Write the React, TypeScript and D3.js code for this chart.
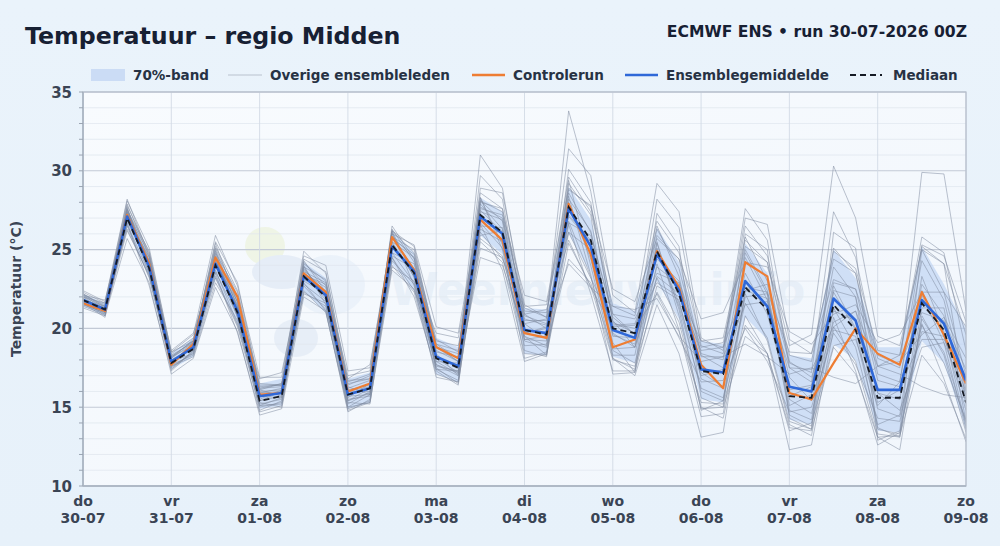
import React from "react";
import * as d3 from "d3";

// 6-hourly steps from 30-07 00Z to 09-08 00Z (41 points)
const stepHours = d3.range(0, 241, 6);

const dayNames = ["do", "vr", "za", "zo", "ma", "di", "wo", "do", "vr", "za", "zo"];
const dayDates = ["30-07", "31-07", "01-08", "02-08", "03-08", "04-08", "05-08", "06-08", "07-08", "08-08", "09-08"];
const yTicks = [10, 15, 20, 25, 30, 35];

const meanSeries = [21.8, 21.2, 27.1, 23.9, 17.9, 18.8, 24.1, 21.1, 15.7, 15.9, 23.3, 22.1, 15.8, 16.2, 25.2, 23.6, 18.2, 17.6, 27.1, 26.0, 19.9, 19.7, 27.6, 25.2, 19.9, 19.4, 24.7, 22.4, 17.4, 17.2, 23.0, 21.4, 16.3, 16.0, 21.9, 20.5, 16.1, 16.1, 21.8, 20.3, 16.7];
const controlSeries = [21.6, 21.1, 27.2, 24.1, 17.7, 19.0, 24.5, 22.0, 15.8, 15.9, 23.5, 22.3, 16.0, 16.5, 25.8, 23.7, 18.8, 18.1, 26.9, 25.6, 19.7, 19.4, 27.9, 24.7, 18.8, 19.3, 24.9, 22.6, 17.7, 16.2, 24.2, 23.3, 15.9, 15.5, 17.8, 20.0, 18.4, 17.7, 22.3, 19.6, 16.5];
const medianSeries = [21.8, 21.2, 27.0, 23.8, 17.8, 18.7, 24.0, 21.0, 15.4, 15.7, 23.3, 22.0, 15.8, 16.2, 25.3, 23.5, 18.1, 17.5, 27.2, 26.1, 19.9, 19.6, 27.7, 25.6, 20.0, 19.7, 24.9, 22.2, 17.3, 17.1, 22.6, 21.2, 15.7, 15.6, 21.5, 19.9, 15.6, 15.6, 21.6, 19.9, 15.3];
const bandLow = [21.4, 20.8, 26.4, 23.2, 17.4, 18.2, 23.2, 20.2, 14.9, 15.1, 22.4, 21.0, 14.9, 15.3, 24.1, 22.4, 17.1, 16.6, 25.9, 24.7, 18.4, 18.3, 26.0, 23.5, 18.2, 17.8, 23.0, 20.6, 15.5, 15.3, 20.7, 19.3, 14.2, 13.9, 19.0, 18.0, 13.5, 13.4, 19.2, 17.8, 13.6];
const bandHigh = [22.2, 21.6, 27.6, 24.6, 18.4, 19.4, 25.0, 22.2, 16.5, 16.8, 24.2, 23.2, 16.8, 17.2, 26.2, 24.8, 19.4, 18.8, 28.3, 27.4, 21.3, 21.2, 29.0, 26.9, 21.6, 21.1, 26.4, 24.2, 19.2, 19.0, 25.4, 23.5, 18.3, 18.1, 25.0, 23.2, 18.8, 18.8, 25.2, 22.8, 20.0];

const members: number[][] = [
  [22.1, 21.5, 27.9, 24.5, 18.2, 19.2, 25.1, 22.0, 16.3, 16.4, 24.1, 23.0, 16.5, 16.8, 26.2, 24.8, 19.3, 18.5, 28.6, 27.6, 21.1, 21.0, 29.6, 27.4, 21.4, 20.8, 26.8, 24.8, 19.2, 18.8, 25.6, 24.2, 18.3, 17.9, 24.9, 23.8, 18.6, 18.3, 25.2, 24.1, 19.6],
  [21.5, 21.0, 26.5, 23.2, 17.6, 18.4, 23.2, 20.1, 15.0, 15.3, 22.4, 21.0, 15.0, 15.3, 24.0, 22.3, 17.1, 16.6, 25.5, 24.2, 18.4, 18.3, 25.4, 22.7, 18.0, 17.6, 22.3, 19.8, 15.3, 15.2, 20.2, 18.4, 13.7, 13.5, 18.8, 17.1, 13.1, 13.2, 18.3, 16.5, 13.0],
  [21.9, 21.2, 27.4, 24.1, 17.8, 19.0, 24.6, 21.4, 15.4, 15.7, 23.7, 22.3, 15.4, 15.9, 25.8, 23.8, 17.7, 17.2, 28.1, 26.8, 19.3, 19.2, 30.1, 28.0, 20.4, 19.7, 28.2, 26.4, 18.9, 18.4, 27.0, 26.6, 19.3, 18.4, 24.4, 23.5, 17.1, 16.6, 25.3, 24.6, 20.4],
  [21.8, 21.3, 27.6, 24.3, 17.9, 18.9, 24.7, 21.7, 15.9, 16.2, 24.2, 22.7, 16.0, 16.3, 26.5, 24.4, 18.8, 17.9, 29.7, 28.2, 20.3, 20.6, 33.8, 28.7, 20.9, 19.6, 26.5, 23.3, 16.8, 16.2, 24.5, 21.8, 14.8, 14.2, 22.7, 20.0, 13.6, 13.3, 22.1, 19.1, 13.6],
  [22.0, 21.4, 27.8, 24.8, 18.3, 19.1, 25.5, 22.9, 16.2, 16.3, 24.4, 23.6, 16.4, 17.0, 26.2, 25.2, 19.0, 18.1, 31.0, 28.9, 20.9, 20.0, 28.8, 27.8, 20.5, 18.8, 25.0, 21.4, 16.2, 15.6, 21.6, 19.4, 14.1, 13.6, 21.3, 18.8, 13.3, 13.1, 20.6, 18.5, 14.0],
  [21.4, 20.9, 26.2, 23.4, 17.6, 18.2, 22.9, 20.5, 15.2, 15.5, 22.2, 21.6, 15.5, 15.7, 24.3, 22.8, 17.7, 17.0, 25.1, 24.5, 19.5, 18.9, 24.4, 22.9, 18.6, 17.8, 23.3, 22.2, 19.2, 19.4, 25.8, 23.0, 17.8, 17.2, 27.4, 24.5, 18.1, 17.5, 29.9, 29.8, 21.1],
  [22.3, 21.6, 28.1, 25.1, 18.5, 19.6, 25.9, 22.7, 16.9, 16.9, 24.6, 24.0, 17.3, 17.5, 26.0, 25.3, 20.1, 19.7, 27.6, 27.2, 22.1, 21.7, 28.9, 27.7, 22.5, 21.7, 25.7, 24.4, 20.6, 21.0, 24.2, 23.9, 19.8, 19.0, 20.9, 21.5, 19.1, 19.6, 22.3, 22.3, 20.1],
  [21.7, 20.8, 26.7, 22.7, 17.3, 18.6, 23.5, 19.7, 14.7, 15.1, 22.9, 21.1, 14.7, 15.5, 24.5, 22.0, 17.3, 16.4, 26.6, 23.7, 17.9, 18.4, 26.6, 22.2, 17.3, 17.3, 24.1, 19.9, 14.4, 14.6, 22.2, 19.2, 13.9, 13.2, 20.7, 17.3, 12.6, 13.4, 20.3, 16.8, 12.8],
  [21.8, 21.1, 27.3, 23.7, 18.0, 18.8, 24.4, 20.7, 15.9, 16.0, 23.1, 22.4, 16.1, 16.4, 24.8, 24.1, 18.6, 17.9, 26.5, 26.4, 20.5, 20.5, 26.7, 25.9, 20.9, 20.6, 23.5, 22.9, 18.2, 18.2, 21.5, 21.7, 17.5, 17.4, 20.1, 21.1, 17.6, 17.9, 19.6, 20.7, 18.1],
  [22.1, 21.8, 27.4, 24.7, 18.1, 19.3, 24.8, 22.3, 16.1, 16.5, 24.9, 23.5, 16.7, 16.8, 26.3, 24.2, 18.5, 18.2, 27.7, 27.0, 21.4, 21.5, 28.0, 24.4, 18.7, 18.8, 23.2, 20.4, 14.9, 15.0, 19.5, 18.4, 13.5, 14.0, 18.9, 19.3, 15.1, 16.6, 24.3, 21.8, 16.1],
  [21.6, 21.2, 26.9, 24.2, 17.5, 18.5, 24.3, 21.5, 15.1, 15.2, 23.5, 22.6, 14.9, 15.4, 25.8, 24.5, 17.4, 16.7, 28.1, 27.4, 18.6, 18.2, 29.2, 27.2, 18.1, 17.4, 27.3, 25.2, 15.6, 15.0, 26.0, 25.0, 14.3, 13.6, 26.1, 25.1, 12.9, 13.5, 25.0, 24.1, 15.4],
  [21.9, 21.0, 26.6, 23.5, 18.2, 19.2, 23.7, 20.3, 16.2, 16.5, 22.7, 21.2, 16.6, 17.1, 24.5, 22.4, 19.2, 18.9, 26.1, 24.4, 21.3, 20.7, 25.6, 22.6, 21.4, 21.2, 21.9, 19.5, 17.9, 18.2, 19.0, 18.2, 17.1, 17.5, 16.9, 16.5, 17.6, 17.1, 16.3, 15.8, 15.6],
  [21.6, 20.7, 27.5, 24.0, 17.7, 18.3, 23.9, 21.4, 15.3, 15.0, 23.0, 22.2, 15.3, 15.2, 24.6, 23.8, 17.5, 16.5, 25.9, 26.2, 19.5, 18.3, 26.1, 25.0, 19.1, 17.2, 22.7, 21.8, 16.0, 15.4, 22.0, 22.2, 14.5, 13.8, 22.4, 22.0, 13.7, 13.1, 21.3, 21.3, 14.1],
  [22.4, 21.7, 28.2, 24.6, 18.1, 19.1, 25.4, 21.6, 15.5, 16.1, 24.3, 22.3, 15.4, 16.2, 26.2, 23.2, 17.4, 17.3, 28.3, 25.3, 18.1, 18.5, 28.4, 23.4, 17.1, 17.2, 25.4, 21.2, 14.8, 15.4, 24.8, 22.2, 15.1, 15.8, 25.1, 23.5, 17.6, 18.3, 25.8, 24.8, 18.6],
  [21.3, 20.8, 25.7, 22.9, 17.1, 18.1, 22.6, 19.8, 14.5, 14.9, 22.0, 21.1, 14.8, 15.3, 23.7, 22.5, 17.6, 17.3, 24.5, 24.0, 19.7, 20.1, 24.1, 22.6, 20.1, 20.2, 22.9, 22.0, 18.6, 18.8, 22.6, 22.3, 18.5, 18.4, 23.1, 22.5, 18.3, 17.7, 21.0, 20.5, 17.4],
  [22.2, 21.4, 27.3, 24.3, 18.4, 19.4, 25.0, 21.3, 16.8, 17.2, 23.8, 22.1, 16.8, 17.7, 25.5, 23.3, 19.7, 19.4, 26.7, 25.1, 20.9, 21.2, 26.1, 23.2, 20.3, 20.0, 22.2, 19.4, 16.6, 16.7, 20.0, 17.9, 14.7, 15.0, 19.7, 17.7, 14.3, 14.1, 20.2, 17.8, 14.2],
  [21.7, 21.3, 27.1, 24.5, 18.2, 18.9, 24.5, 21.9, 16.0, 16.1, 23.6, 22.9, 16.0, 16.0, 25.8, 25.0, 18.9, 17.9, 28.9, 28.6, 21.5, 20.7, 31.4, 29.7, 22.1, 21.0, 29.2, 27.4, 19.4, 18.6, 27.6, 25.6, 17.5, 16.6, 23.9, 22.0, 15.9, 15.5, 22.8, 20.8, 15.2],
  [22.0, 21.1, 26.8, 23.9, 18.0, 18.7, 23.6, 20.8, 15.7, 15.6, 22.8, 21.7, 15.7, 15.8, 24.8, 22.9, 17.9, 17.1, 26.3, 25.5, 19.2, 18.8, 28.2, 26.2, 19.6, 19.0, 25.9, 24.4, 18.4, 18.0, 26.5, 24.6, 18.9, 19.6, 30.3, 27.0, 19.5, 18.9, 25.0, 22.3, 17.0],
  [21.5, 21.0, 27.7, 23.6, 17.4, 18.6, 24.9, 20.7, 14.8, 15.4, 24.0, 21.5, 15.0, 15.8, 26.1, 22.7, 16.9, 16.6, 28.3, 25.0, 18.9, 19.0, 29.4, 24.0, 18.3, 18.3, 25.5, 20.8, 15.0, 14.3, 20.8, 18.4, 12.3, 12.6, 19.9, 19.5, 13.9, 14.5, 23.3, 19.8, 13.8],
  [22.2, 21.3, 27.0, 24.2, 18.6, 19.7, 24.2, 21.7, 16.4, 16.4, 23.4, 22.8, 17.0, 17.3, 25.5, 24.5, 19.0, 18.6, 27.4, 26.9, 20.6, 20.2, 27.2, 25.6, 20.2, 20.3, 24.4, 23.0, 18.8, 19.1, 25.2, 24.2, 17.9, 16.9, 21.1, 20.5, 14.9, 14.4, 19.8, 19.5, 14.8],
  [21.8, 21.4, 26.3, 23.3, 17.7, 19.0, 23.3, 20.2, 15.4, 16.0, 22.3, 21.4, 15.6, 16.5, 23.9, 23.0, 18.1, 17.2, 25.7, 24.6, 19.3, 19.5, 26.8, 23.3, 18.1, 17.0, 21.5, 18.4, 13.1, 13.4, 22.4, 21.9, 16.1, 16.4, 22.9, 22.5, 16.7, 16.3, 19.3, 19.3, 16.8],
  [22.0, 21.6, 27.5, 24.9, 18.5, 19.2, 25.2, 22.4, 16.5, 16.4, 23.9, 23.1, 16.2, 16.7, 25.7, 24.7, 18.8, 18.4, 28.0, 27.6, 20.8, 20.3, 27.1, 25.5, 19.7, 18.8, 23.9, 22.8, 17.2, 16.3, 22.4, 22.8, 16.9, 15.4, 20.4, 21.1, 15.9, 14.8, 18.8, 19.1, 15.8],
  [21.7, 20.9, 27.2, 23.5, 17.9, 18.4, 24.5, 20.9, 16.1, 15.7, 23.9, 21.9, 16.3, 15.8, 26.0, 23.5, 18.4, 17.0, 27.9, 26.3, 20.3, 19.3, 28.6, 26.1, 20.7, 19.6, 26.3, 23.8, 18.3, 17.5, 25.0, 22.4, 15.5, 14.6, 20.1, 17.9, 13.1, 12.3, 20.8, 18.3, 13.4],
  [22.1, 21.2, 27.6, 23.8, 17.8, 19.1, 24.5, 21.1, 15.1, 15.6, 23.5, 21.8, 15.2, 16.0, 25.4, 23.3, 17.9, 17.8, 27.5, 26.1, 19.7, 20.0, 27.8, 24.7, 19.5, 19.4, 25.1, 21.6, 17.0, 17.4, 23.5, 20.9, 15.7, 16.3, 22.3, 19.9, 15.3, 16.1, 22.4, 19.5, 16.0],
];

const W = 1000;
const H = 546;
const M = { left: 83, right: 34, top: 92, bottom: 60 };
const FONT = "'DejaVu Sans', sans-serif";

export default function App() {
  const x = d3.scaleLinear().domain([0, 240]).range([M.left, W - M.right]);
  const y = d3.scaleLinear().domain([10, 35]).range([H - M.bottom, M.top]);

  const line = d3
    .line<number>()
    .x((_, i) => x(stepHours[i]))
    .y((v) => y(v));
  const area = d3
    .area<number>()
    .x((_, i) => x(stepHours[i]))
    .y0((_, i) => y(bandLow[i]))
    .y1((_, i) => y(bandHigh[i]));

  const minorTicks = d3.range(10, 36, 1);
  const dayTicks = dayNames.map((_, i) => i * 24);
  const x0 = M.left;
  const x1 = W - M.right;
  const y0 = H - M.bottom;
  const y1 = M.top;

  return (
    <svg
      width={W}
      height={H}
      viewBox={`0 0 ${W} ${H}`}
      style={{ position: "absolute", left: 0, top: 0, display: "block" }}
      fontFamily={FONT}
    >
      <defs>
        <linearGradient id="pageBg" x1="0" y1="0" x2="0" y2="1">
          <stop offset="0%" stopColor="#eaf3fb" />
          <stop offset="100%" stopColor="#e7f1fa" />
        </linearGradient>
        <linearGradient id="plotBg" x1="0" y1="0" x2="1" y2="1">
          <stop offset="0%" stopColor="#f8fbfe" />
          <stop offset="100%" stopColor="#f1f6fc" />
        </linearGradient>
        <clipPath id="plotClip">
          <rect x={x0} y={y1} width={x1 - x0} height={y0 - y1} />
        </clipPath>
      </defs>
      <rect x={0} y={0} width={W} height={H} fill="url(#pageBg)" />

      {/* title */}
      <text x={25} y={44} fontSize={23.7} fontWeight="bold" fill="#172033">
        Temperatuur – regio Midden
      </text>
      <text x={967} y={37} fontSize={15.6} fontWeight="bold" fill="#172033" textAnchor="end">
        ECMWF ENS • run 30-07-2026 00Z
      </text>

      {/* legend */}
      <g fontSize={13.5} fontWeight="bold" fill="#273244">
        <rect x={91} y={69} width={34} height={12} fill="#cbdcf5" />
        <text x={133} y={80}>70%-band</text>
        <line x1={228} x2={262} y1={75} y2={75} stroke="#b9c2ce" strokeWidth={1} />
        <text x={270} y={80}>Overige ensembleleden</text>
        <line x1={472} x2={505} y1={75} y2={75} stroke="#ee7d33" strokeWidth={2.5} />
        <text x={513} y={80}>Controlerun</text>
        <line x1={625} x2={658} y1={75} y2={75} stroke="#2f68d8" strokeWidth={2.5} />
        <text x={666} y={80}>Ensemblegemiddelde</text>
        <line x1={850} x2={882} y1={75} y2={75} stroke="#151a24" strokeWidth={2} strokeDasharray="6,4" />
        <text x={893} y={80}>Mediaan</text>
      </g>

      {/* plot background */}
      <rect x={x0} y={y1} width={x1 - x0} height={y0 - y1} fill="url(#plotBg)" />

      {/* watermark */}
      <g clipPath="url(#plotClip)" opacity={0.4}>
        <ellipse cx={265} cy={246} rx={20} ry={19} fill="#e6efc4" />
        <ellipse cx={282} cy={272} rx={30} ry={17} fill="#cfdcef" />
        <ellipse cx={330} cy={285} rx={35} ry={30} fill="#dde9f7" />
        <ellipse cx={296} cy={338} rx={22} ry={19} fill="#d4e0f0" />
        <text x={390} y={305} fontSize={44} fontWeight="bold" fill="#d6e3f2">
          Weernieuws.info
        </text>
      </g>

      {/* grid */}
      <g>
        {minorTicks.map((t) => (
          <line
            key={"m" + t}
            x1={x0}
            x2={x1}
            y1={y(t)}
            y2={y(t)}
            stroke={t % 5 === 0 ? "#c3cad6" : "#e1e7ef"}
            strokeWidth={t % 5 === 0 ? 1.1 : 0.8}
          />
        ))}
        {dayTicks.map((h) => (
          <line key={"v" + h} x1={x(h)} x2={x(h)} y1={y1} y2={y0} stroke="#d3dae5" strokeWidth={0.9} />
        ))}
      </g>

      {/* data */}
      <g clipPath="url(#plotClip)">
        <path d={area(meanSeries) ?? ""} fill="#b7cff1" fillOpacity={0.6} />
        {members.map((m, i) => (
          <path
            key={"mem" + i}
            d={line(m) ?? ""}
            fill="none"
            stroke="#7f8ba0"
            strokeOpacity={0.62}
            strokeWidth={0.85}
          />
        ))}
        <path d={line(controlSeries) ?? ""} fill="none" stroke="#ee7d33" strokeWidth={2.2} strokeLinejoin="round" />
        <path d={line(meanSeries) ?? ""} fill="none" stroke="#2f68d8" strokeWidth={2.6} strokeLinejoin="round" />
        <path
          d={line(medianSeries) ?? ""}
          fill="none"
          stroke="#151a24"
          strokeWidth={1.8}
          strokeDasharray="6,4"
        />
      </g>

      {/* axes frame */}
      <rect x={x0} y={y1} width={x1 - x0} height={y0 - y1} fill="none" stroke="#b4bdca" strokeWidth={1.2} />
      <line x1={x0} x2={x0} y1={y1} y2={y0} stroke="#a9b3c1" strokeWidth={1.5} />
      <line x1={x0} x2={x1} y1={y0} y2={y0} stroke="#a9b3c1" strokeWidth={1.5} />

      {/* y ticks */}
      <g>
        {minorTicks.map((t) => (
          <line key={"yt" + t} x1={x0 - 4} x2={x0} y1={y(t)} y2={y(t)} stroke="#9aa4b2" strokeWidth={1} />
        ))}
        {yTicks.map((t) => (
          <text
            key={"yl" + t}
            x={72}
            y={y(t) + 5.5}
            textAnchor="end"
            fontSize={15}
            fontWeight="bold"
            fill="#3a4454"
          >
            {t}
          </text>
        ))}
      </g>
      <text
        transform={`translate(21, ${(y0 + y1) / 2}) rotate(-90)`}
        textAnchor="middle"
        fontSize={14}
        fontWeight="bold"
        fill="#3a4454"
      >
        Temperatuur (°C)
      </text>

      {/* x ticks */}
      <g fontSize={14} fontWeight="bold" fill="#3a4454" textAnchor="middle">
        {dayTicks.map((h, i) => (
          <g key={"xl" + h}>
            <text x={x(h)} y={506}>
              {dayNames[i]}
            </text>
            <text x={x(h)} y={523}>
              {dayDates[i]}
            </text>
          </g>
        ))}
      </g>
    </svg>
  );
}
